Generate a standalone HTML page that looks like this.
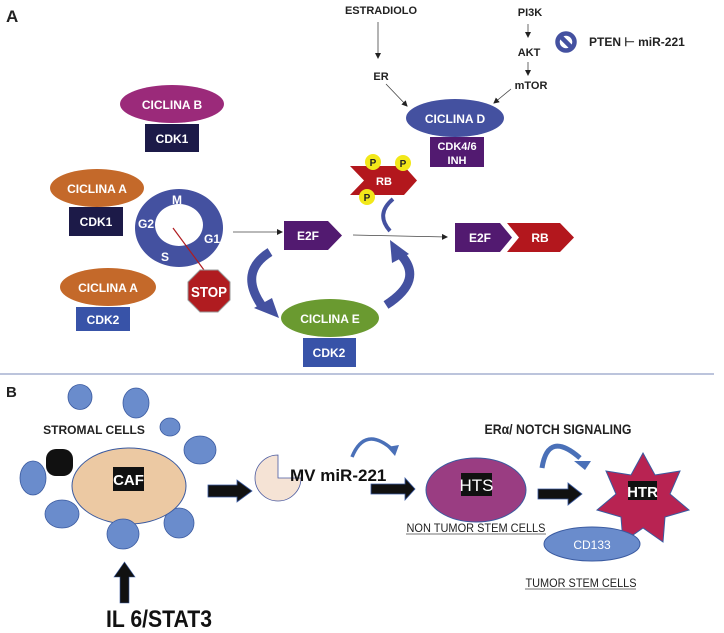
<!DOCTYPE html>
<html><head><meta charset="utf-8"><style>
html,body{margin:0;padding:0;background:#fff;}
svg{display:block;}
text{font-family:"Liberation Sans",sans-serif;}
</style></head><body>
<svg width="724" height="633" viewBox="0 0 724 633" xmlns="http://www.w3.org/2000/svg">
<defs>
<marker id="ah" markerWidth="6" markerHeight="6" refX="5" refY="3" orient="auto" markerUnits="userSpaceOnUse"><path d="M0,0 L6,3 L0,6 z" fill="#222"/></marker>
</defs>
<!-- PART A -->
<text x="6" y="22" font-size="17" font-weight="bold" fill="#222">A</text>

<ellipse cx="172" cy="104" rx="52" ry="19" fill="#9b2a7a"/>
<text x="172" y="109" font-size="12" font-weight="bold" fill="#fff" text-anchor="middle">CICLINA B</text>
<rect x="145" y="124" width="54" height="28" fill="#1c1a48"/>
<text x="172" y="143" font-size="12" font-weight="bold" fill="#fff" text-anchor="middle">CDK1</text>

<ellipse cx="97" cy="188" rx="47" ry="19" fill="#c4692a"/>
<text x="97" y="193" font-size="12" font-weight="bold" fill="#fff" text-anchor="middle">CICLINA A</text>
<rect x="69" y="207" width="54" height="29" fill="#1c1a48"/>
<text x="96" y="226" font-size="12" font-weight="bold" fill="#fff" text-anchor="middle">CDK1</text>

<ellipse cx="108" cy="287" rx="48" ry="19" fill="#c4692a"/>
<text x="108" y="292" font-size="12" font-weight="bold" fill="#fff" text-anchor="middle">CICLINA A</text>
<rect x="76" y="307" width="54" height="24" fill="#3853a8"/>
<text x="103" y="324" font-size="12" font-weight="bold" fill="#fff" text-anchor="middle">CDK2</text>

<path d="M179,189 a44,39 0 1,0 0.01,0 z M179,204 a24,21 0 1,1 -0.01,0 z" fill="#4451a0" fill-rule="evenodd"/>
<text x="177" y="204" font-size="12" font-weight="bold" fill="#fff" text-anchor="middle">M</text>
<text x="146" y="228" font-size="12" font-weight="bold" fill="#fff" text-anchor="middle">G2</text>
<text x="212" y="243" font-size="12" font-weight="bold" fill="#fff" text-anchor="middle">G1</text>
<text x="165" y="261" font-size="12" font-weight="bold" fill="#fff" text-anchor="middle">S</text>
<line x1="173" y1="228" x2="204" y2="270" stroke="#b01c20" stroke-width="1.2"/>
<polygon points="200,270 218,270 230,282 230,300 218,312 200,312 188,300 188,282" fill="#b01c20" stroke="#999" stroke-width="1"/>
<text x="209" y="297" font-size="15" font-weight="bold" fill="#fff" text-anchor="middle" textLength="36" lengthAdjust="spacingAndGlyphs">STOP</text>

<line x1="233" y1="232" x2="282" y2="232" stroke="#444" stroke-width="0.8" marker-end="url(#ah)"/>
<polygon points="284,221 328,221 342,235.5 328,250 284,250" fill="#521a70"/>
<text x="308" y="240" font-size="12" font-weight="bold" fill="#fff" text-anchor="middle">E2F</text>

<path d="M270,252 Q238,272 262,306" fill="none" stroke="#4451a0" stroke-width="9"/>
<polygon points="254,308 272,298 279,318" fill="#4451a0"/>
<path d="M386,305 Q425,280 400,254" fill="none" stroke="#4451a0" stroke-width="9"/>
<polygon points="390,240 409,254 392,263" fill="#4451a0"/>
<path d="M393,199 Q375,214 390,231" fill="none" stroke="#4451a0" stroke-width="4"/>

<ellipse cx="330" cy="318" rx="49" ry="19" fill="#6a9a30"/>
<text x="330" y="323" font-size="12" font-weight="bold" fill="#fff" text-anchor="middle">CICLINA E</text>
<rect x="303" y="338" width="53" height="29" fill="#3853a8"/>
<text x="329" y="357" font-size="12" font-weight="bold" fill="#fff" text-anchor="middle">CDK2</text>

<line x1="353" y1="235" x2="447" y2="237" stroke="#444" stroke-width="0.8" marker-end="url(#ah)"/>
<polygon points="455,223 500,223 512,237.5 500,252 455,252" fill="#521a70"/>
<text x="480" y="242" font-size="12" font-weight="bold" fill="#fff" text-anchor="middle">E2F</text>
<polygon points="507,223 560,223 574,237.5 560,252 507,252 519,237.5" fill="#b3171d"/>
<text x="540" y="242" font-size="12" font-weight="bold" fill="#fff" text-anchor="middle">RB</text>

<polygon points="350,166 404,166 417,180.5 404,195 350,195 364,180.5" fill="#b3171d"/>
<text x="384" y="185" font-size="11" font-weight="bold" fill="#fff" text-anchor="middle">RB</text>
<circle cx="373" cy="162" r="8" fill="#f2e81a"/><text x="373" y="166" font-size="10" font-weight="bold" fill="#222" text-anchor="middle">P</text>
<circle cx="403" cy="163" r="8" fill="#f2e81a"/><text x="403" y="167" font-size="10" font-weight="bold" fill="#222" text-anchor="middle">P</text>
<circle cx="367" cy="197" r="8" fill="#f2e81a"/><text x="367" y="201" font-size="10" font-weight="bold" fill="#222" text-anchor="middle">P</text>

<ellipse cx="455" cy="118" rx="49" ry="19" fill="#4451a0"/>
<text x="455" y="123" font-size="12" font-weight="bold" fill="#fff" text-anchor="middle">CICLINA D</text>
<rect x="430" y="137" width="54" height="30" fill="#521a70"/>
<text x="457" y="150" font-size="11" font-weight="bold" fill="#fff" text-anchor="middle">CDK4/6</text>
<text x="457" y="164" font-size="11" font-weight="bold" fill="#fff" text-anchor="middle">INH</text>

<text x="381" y="14" font-size="11" font-weight="bold" fill="#222" text-anchor="middle">ESTRADIOLO</text>
<line x1="378" y1="22" x2="378" y2="58" stroke="#444" stroke-width="0.8" marker-end="url(#ah)"/>
<text x="381" y="80" font-size="11" font-weight="bold" fill="#222" text-anchor="middle">ER</text>
<line x1="386" y1="84" x2="407" y2="106" stroke="#444" stroke-width="0.8" marker-end="url(#ah)"/>
<text x="530" y="16" font-size="11" font-weight="bold" fill="#222" text-anchor="middle">PI3K</text>
<line x1="528" y1="24" x2="528" y2="37" stroke="#444" stroke-width="0.8" marker-end="url(#ah)"/>
<text x="529" y="56" font-size="11" font-weight="bold" fill="#222" text-anchor="middle">AKT</text>
<line x1="528" y1="62" x2="528" y2="75" stroke="#444" stroke-width="0.8" marker-end="url(#ah)"/>
<text x="531" y="89" font-size="11" font-weight="bold" fill="#222" text-anchor="middle">mTOR</text>
<line x1="511" y1="89" x2="494" y2="103" stroke="#444" stroke-width="0.8" marker-end="url(#ah)"/>

<circle cx="566" cy="42" r="8.5" fill="none" stroke="#4451a0" stroke-width="4.5"/>
<line x1="560" y1="36" x2="572" y2="48" stroke="#4451a0" stroke-width="4.5"/>
<text x="589" y="46" font-size="12" font-weight="bold" fill="#222">PTEN ⊢ miR-221</text>

<line x1="0" y1="374" x2="714" y2="374" stroke="#7a88b8" stroke-width="1"/>

<!-- PART B -->
<text x="6" y="397" font-size="15" font-weight="bold" fill="#222">B</text>
<g fill="#6a8ccc" stroke="#3a5aa0" stroke-width="0.8">
<ellipse cx="80" cy="397" rx="12" ry="12.5"/>
<ellipse cx="136" cy="403" rx="13" ry="15"/>
<ellipse cx="170" cy="427" rx="10" ry="9"/>
<ellipse cx="200" cy="450" rx="16" ry="14"/>
<ellipse cx="33" cy="478" rx="13" ry="17"/>
<ellipse cx="62" cy="514" rx="17" ry="14"/>
<ellipse cx="179" cy="523" rx="15" ry="15"/>
</g>
<rect x="46" y="449" width="27" height="27" rx="10" fill="#111"/>
<ellipse cx="129" cy="486" rx="57" ry="38" fill="#ecc9a3" stroke="#3a5aa0" stroke-width="1"/>
<ellipse cx="123" cy="534" rx="16" ry="15" fill="#6a8ccc" stroke="#3a5aa0" stroke-width="0.8"/>
<text x="94" y="434" font-size="12" font-weight="bold" fill="#222" text-anchor="middle">STROMAL CELLS</text>
<rect x="113" y="467" width="31" height="24" fill="#111"/>
<text x="128.5" y="485" font-size="15" font-weight="bold" fill="#fff" text-anchor="middle">CAF</text>
<polygon points="120,603 129,603 129,577 135,577 124.5,562 114,577 120,577" fill="#111" stroke="#3a5aa0" stroke-width="0.6"/>
<text x="159" y="627" font-size="24" font-weight="bold" fill="#111" text-anchor="middle" textLength="106" lengthAdjust="spacingAndGlyphs">IL 6/STAT3</text>

<polygon points="208,485 237,485 237,480 252,491 237,502 237,497 208,497" fill="#111" stroke="#3a5aa0" stroke-width="0.8"/>
<path d="M278,478 L278,455 A23,23 0 1,0 301,478 Z" fill="#f5e3d5" stroke="#4a5aa0" stroke-width="0.8"/>
<text x="290" y="481" font-size="17" font-weight="bold" fill="#111">MV miR-221</text>
<path d="M352,457 Q365,425 393,450" fill="none" stroke="#4a70b8" stroke-width="3.5"/>
<polygon points="387,447 399,445 395,456" fill="#4a70b8"/>

<polygon points="371,484 405,484 405,478 415,489 405,500 405,494 371,494" fill="#111" stroke="#3a5aa0" stroke-width="0.8"/>
<ellipse cx="476" cy="490" rx="50" ry="32" fill="#9a3d82" stroke="#3a5aa0" stroke-width="1"/>
<rect x="461" y="473" width="31" height="23" fill="#111"/>
<text x="476.5" y="491" font-size="17" fill="#fff" text-anchor="middle">HTS</text>
<text x="476" y="532" font-size="12" fill="#222" text-anchor="middle" textLength="139" lengthAdjust="spacingAndGlyphs">NON TUMOR STEM CELLS</text>
<line x1="406" y1="534" x2="546" y2="534" stroke="#444" stroke-width="0.8"/>

<text x="558" y="434" font-size="14" font-weight="bold" fill="#222" text-anchor="middle" textLength="147" lengthAdjust="spacingAndGlyphs">ERα/ NOTCH SIGNALING</text>
<path d="M542,468 Q548,430 580,458" fill="none" stroke="#4a70b8" stroke-width="5"/>
<polygon points="574,461 591,461 585,470" fill="#4a70b8"/>

<polygon points="538,489 568,489 568,483 582,494 568,505 568,499 538,499" fill="#111" stroke="#3a5aa0" stroke-width="0.8"/>
<polygon points="643,453 655,475 680,471 670,494 689,510 665,517 663,542 643,528 623,542 621,517 597,510 616,494 606,471 631,475" fill="#b82352" stroke="#3a5aa0" stroke-width="1"/>
<rect x="628" y="481" width="29" height="19" fill="#111"/>
<text x="642.5" y="497" font-size="15" font-weight="bold" fill="#fff" text-anchor="middle">HTR</text>
<ellipse cx="592" cy="544" rx="48" ry="17" fill="#6a8ccc" stroke="#3a5aa0" stroke-width="1"/>
<text x="592" y="549" font-size="12" fill="#fff" text-anchor="middle">CD133</text>
<text x="581" y="587" font-size="12" fill="#222" text-anchor="middle" textLength="111" lengthAdjust="spacingAndGlyphs">TUMOR STEM CELLS</text>
<line x1="525" y1="589" x2="636" y2="589" stroke="#444" stroke-width="0.8"/>
</svg>
</body></html>
